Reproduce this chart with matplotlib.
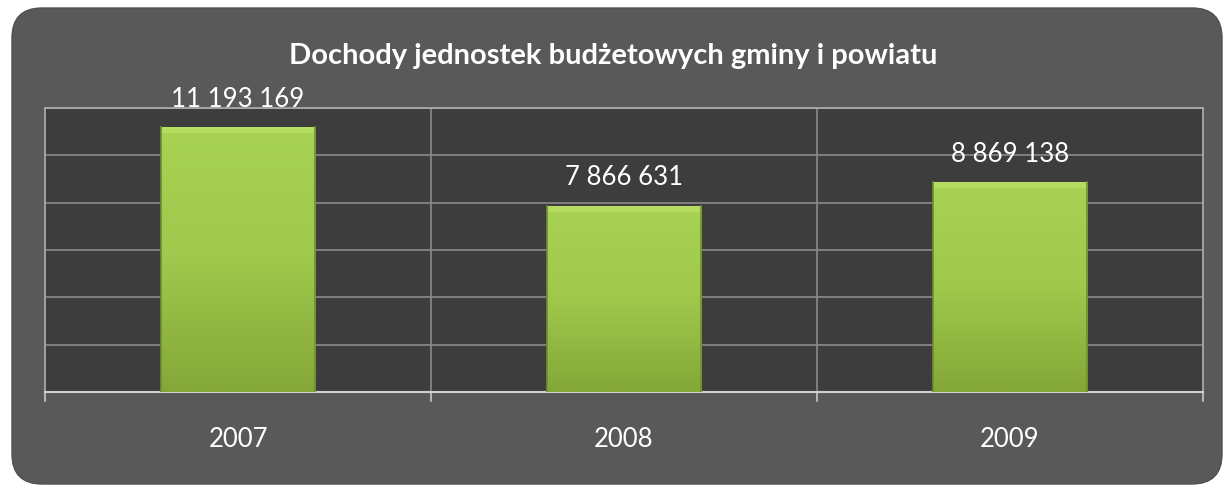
import numpy as np
import matplotlib.pyplot as plt
from matplotlib.patches import FancyBboxPatch
from matplotlib.colors import LinearSegmentedColormap

# data
years = ['2007', '2008', '2009']
values = [11193169, 7866631, 8869138]
value_labels = ['11 193 169', '7 866 631', '8 869 138']
title = 'Dochody jednostek budżetowych gminy i powiatu'

plt.rcParams['font.family'] = ['Lato', 'DejaVu Sans']

W, H = 1227, 486
fig = plt.figure(figsize=(W / 100, H / 100), dpi=100, facecolor='white')

# background axes in pixel units for the rounded dark panel
bg = fig.add_axes([0, 0, 1, 1], zorder=-1)
bg.set_xlim(0, W)
bg.set_ylim(0, H)
bg.axis('off')
bg.add_patch(FancyBboxPatch((12, 2), 1210, 476,
                            boxstyle='round,pad=0,rounding_size=30',
                            facecolor='#595959', edgecolor='#505050', linewidth=1.0))

ax = fig.add_axes([45 / W, 94 / H, 1158 / W, 284 / H])
ax.set_facecolor('#3d3d3d')

x = np.arange(len(years))
bars = ax.bar(x, values, width=0.4, color='#9dc64a', zorder=3)

# vertical gradient + bevel for each bar
grad = LinearSegmentedColormap.from_list('g', ['#84a838', '#9fc84c', '#a8d254'])
for b in bars:
    x0, y0 = b.get_x(), b.get_y()
    w, h = b.get_width(), b.get_height()
    img = ax.imshow(np.linspace(0, 1, 100).reshape(-1, 1), cmap=grad, origin='lower',
                    extent=[x0, x0 + w, y0, y0 + h], aspect='auto', zorder=3)
    img.set_clip_path(b)
    # light top bevel
    ax.fill_between([x0, x0 + w], y0 + h - 250000, y0 + h, color='#c4e870',
                    alpha=0.55, zorder=4, linewidth=0)
    ax.plot([x0, x0], [y0, y0 + h], color='#6f8f2c', lw=1.2, zorder=5)
    ax.plot([x0 + w, x0 + w], [y0, y0 + h], color='#6f8f2c', lw=1.2, zorder=5)

for xi, v, lab in zip(x, values, value_labels):
    ax.text(xi, v + 650000, lab, ha='center', va='bottom', color='white',
            fontsize=18.5, zorder=6)

ax.set_xlim(-0.5, len(years) - 0.5)
ax.set_ylim(0, 12000000)
ax.set_yticks(np.arange(0, 12000001, 2000000))
ax.yaxis.grid(True, color='#8a8a8a', linewidth=1.2, zorder=1)
ax.set_yticklabels([])
ax.tick_params(axis='y', length=0)

# category separators
for sep in [0.5, 1.5]:
    ax.axvline(sep, color='#8a8a8a', linewidth=1.2, zorder=1)

ax.set_xticks(x)
ax.set_xticklabels(years, color='white', fontsize=18.5)
ax.tick_params(axis='x', length=0, pad=25)
for sep in [-0.5, 0.5, 1.5, 2.5]:
    ax.plot([sep, sep], [0, -0.03], transform=ax.get_xaxis_transform(),
            color='#c8c8c8', lw=1.2, clip_on=False)

for side in ['top', 'right', 'left']:
    ax.spines[side].set_color('#b0b0b0')
    ax.spines[side].set_linewidth(1.2)
ax.spines['bottom'].set_color('#d0d0d0')
ax.spines['bottom'].set_linewidth(1.5)

fig.text(0.5, 1 - 56 / H, title, ha='center', va='center', color='white',
         fontsize=21, fontweight='bold')

fig.savefig('out.png', dpi=100, facecolor='white')
